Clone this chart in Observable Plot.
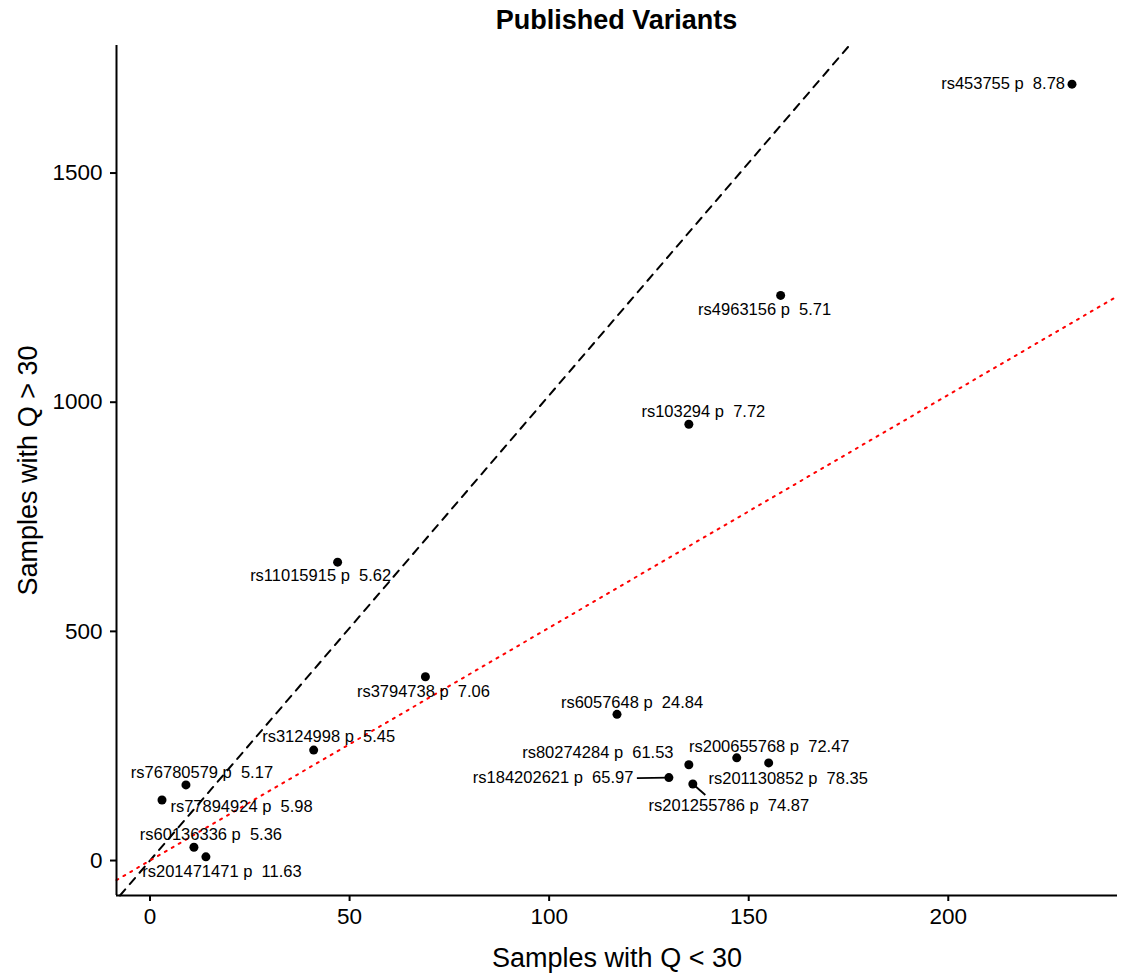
<!DOCTYPE html>
<html>
<head>
<meta charset="utf-8">
<script src="https://cdn.jsdelivr.net/npm/d3@7"></script>
<script src="https://cdn.jsdelivr.net/npm/@observablehq/plot@0.6"></script>
<style>
  html, body { margin: 0; padding: 0; background: #fff; }
  body { width: 1126px; font-family: "Liberation Sans", Arial, Helvetica, sans-serif; }
  #title {
    height: 40px; line-height: 40px; padding-left: 107px; box-sizing: border-box;
    text-align: center; font-weight: bold; font-size: 27px; color: #000;
  }
  svg text { white-space: pre; }
  svg g[aria-label^="x-axis"] line, svg g[aria-label^="y-axis"] line,
  svg g[aria-label^="x-axis"] path, svg g[aria-label^="y-axis"] path { stroke-width: 2; }
</style>
</head>
<body>
<div id="title">Published Variants</div>
<div id="chart"></div>
<script>
// Published variants: sample counts below / above the Q = 30 threshold
const variants = ["rs453755", "rs4963156", "rs103294", "rs11015915", "rs3794738", "rs6057648",
  "rs80274284", "rs200655768", "rs201130852", "rs184202621", "rs201255786", "rs3124998",
  "rs76780579", "rs77894924", "rs60136336", "rs201471471"];
const samplesLowQ = [231, 158, 135, 47, 69, 117, 135, 147, 155, 130, 136, 41, 9, 3, 11, 14];
const samplesHighQ = [1694, 1233, 952, 651, 401, 319, 209, 224, 213, 181, 167, 241, 165, 132, 29, 8];
const pValues = [8.78, 5.71, 7.72, 5.62, 7.06, 24.84, 61.53, 72.47, 78.35, 65.97, 74.87, 5.45, 5.17, 5.98, 5.36, 11.63];

// reference lines through the origin
const refSlopes = [10.15, 5.08];

const xTicks = [0, 50, 100, 150, 200];
const yTicks = [0, 500, 1000, 1500];

// repelled label placement (pixel offsets from each point), text anchor, optional leader end
const labelLayout = [
  {dx: -7, dy: 0, anchor: "end"},
  {dx: -16, dy: 14, anchor: "middle"},
  {dx: 14.5, dy: -12, anchor: "middle"},
  {dx: -17, dy: 14, anchor: "middle"},
  {dx: -2, dy: 15, anchor: "middle"},
  {dx: 15, dy: -12, anchor: "middle"},
  {dx: -91, dy: -12, anchor: "middle"},
  {dx: 32.5, dy: -11.5, anchor: "middle"},
  {dx: 19.5, dy: 15.5, anchor: "middle"},
  {dx: -35.5, dy: 0.5, anchor: "end", lx: -32, ly: 0.5},
  {dx: 36, dy: 22, anchor: "middle", lx: 12.5, ly: 11},
  {dx: 15, dy: -13, anchor: "middle"},
  {dx: 16, dy: -12, anchor: "middle"},
  {dx: 79.5, dy: 7, anchor: "middle"},
  {dx: 17, dy: -13, anchor: "middle"},
  {dx: 16, dy: 14.5, anchor: "middle"}
];

const rows = variants.map((id, i) => ({
  id, x: samplesLowQ[i], y: samplesHighQ[i],
  label: `${id} p  ${pValues[i].toFixed(2)}`,
  ...labelLayout[i]
}));

// continuous scales expanded by 5% on each side
function expand([a, b], f = 0.05) { const d = (b - a) * f; return [a - d, b + d]; }
const xDomain = expand(d3.extent(samplesLowQ));
const yDomain = expand(d3.extent(samplesHighQ));

const W = 1126, H = 933;
const mL = 116, mR = 9, mT = 5, mB = 78;
const kx = (W - mL - mR) / (xDomain[1] - xDomain[0]);
const ky = (H - mT - mB) / (yDomain[1] - yDomain[0]);

// segment of y = m·x that lies inside the panel
function refSegment(m) {
  const x0 = Math.max(xDomain[0], yDomain[0] / m);
  const x1 = Math.min(xDomain[1], yDomain[1] / m);
  return [{x: x0, y: m * x0}, {x: x1, y: m * x1}];
}

const leaders = rows.filter(d => d.lx !== undefined).map(d => ({
  x1: d.x, y1: d.y, x2: d.x + d.lx / kx, y2: d.y - d.ly / ky
}));

const font = '"Liberation Sans", Arial, Helvetica, sans-serif';

const plot = Plot.plot({
  width: W, height: H,
  marginLeft: mL, marginRight: mR, marginTop: mT, marginBottom: mB,
  style: {fontFamily: font, fontSize: "22.5px", color: "#000", background: "#fff", overflow: "visible"},
  x: {domain: xDomain, ticks: xTicks, tickFormat: d => String(d), tickSize: 6, tickPadding: 7, label: null},
  y: {domain: yDomain, ticks: yTicks, tickFormat: d => String(d), tickSize: 6, tickPadding: 8, label: null},
  marks: [
    Plot.line(refSegment(refSlopes[0]), {x: "x", y: "y", stroke: "#000", strokeWidth: 2, strokeDasharray: "8,7"}),
    Plot.line(refSegment(refSlopes[1]), {x: "x", y: "y", stroke: "#ff0000", strokeWidth: 2, strokeDasharray: "2,6"}),
    Plot.ruleX([xDomain[0]], {stroke: "#000", strokeWidth: 2}),
    Plot.ruleY([yDomain[0]], {stroke: "#000", strokeWidth: 2}),
    Plot.link(leaders, {x1: "x1", y1: "y1", x2: "x2", y2: "y2", stroke: "#000", strokeWidth: 1.8}),
    Plot.dot(rows, {x: "x", y: "y", r: 4.5, fill: "#000", stroke: "none"}),
    // one text mark per label so each carries its own pixel offset
    ...rows.map(d => Plot.text([d], {
      x: "x", y: "y", text: "label", textAnchor: d.anchor, dx: d.dx, dy: d.dy, fontSize: 16.5, fill: "#000"
    })),
    Plot.text(["Samples with Q < 30"], {frameAnchor: "bottom", dy: 71, lineAnchor: "bottom", textAnchor: "middle", fontSize: 27, fill: "#000"}),
    Plot.text(["Samples with Q > 30"], {frameAnchor: "left", dx: -80, rotate: -90, lineAnchor: "bottom", textAnchor: "middle", fontSize: 27, fill: "#000"})
  ]
});
document.getElementById("chart").appendChild(plot);
</script>
</body>
</html>
